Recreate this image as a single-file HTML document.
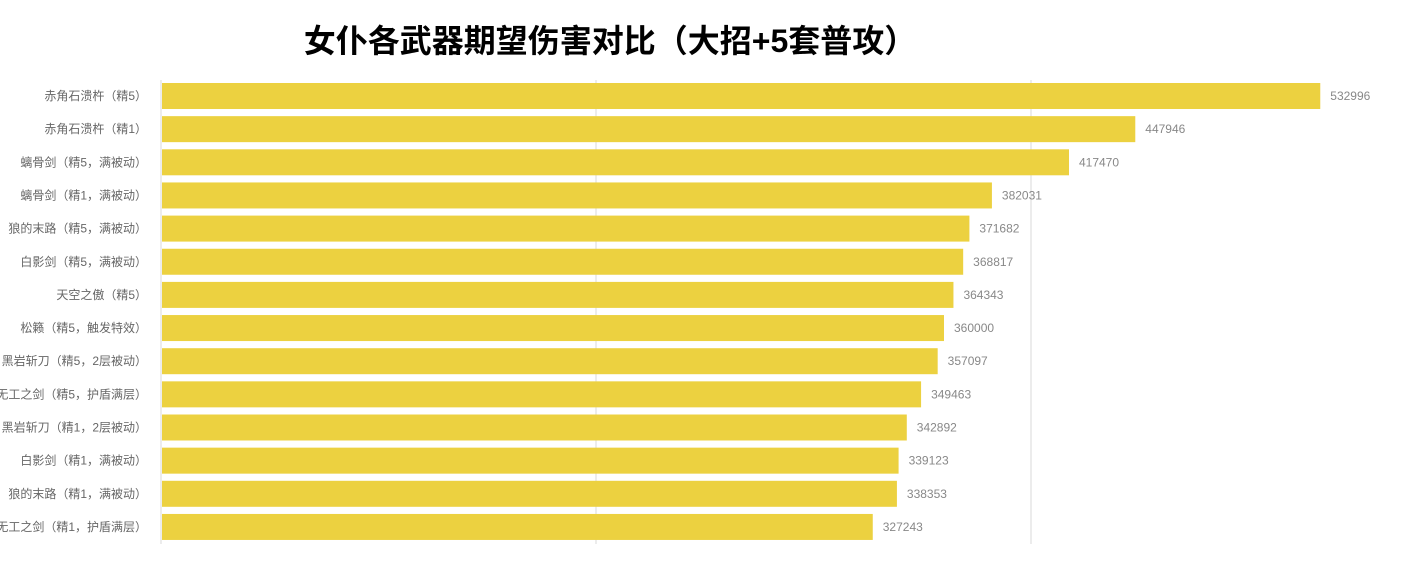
<!DOCTYPE html>
<html><head><meta charset="utf-8"><style>
body{margin:0;background:#fff;width:1407px;height:566px;overflow:hidden}
svg{display:block}
text{font-family:"Liberation Sans","Noto Sans CJK SC",sans-serif}
</style></head><body>
<svg id="chart" width="1407" height="566">
<text x="610" y="52" text-anchor="middle" font-size="32" font-weight="bold" fill="#000">女仆各武器期望伤害对比（大招+5套普攻）</text>
<g id="grid"></g><g id="bars"></g>
</svg>
<script>
const categories=["赤角石溃杵（精5）","赤角石溃杵（精1）","螭骨剑（精5，满被动）","螭骨剑（精1，满被动）","狼的末路（精5，满被动）","白影剑（精5，满被动）","天空之傲（精5）","松籁（精5，触发特效）","黑岩斩刀（精5，2层被动）","无工之剑（精5，护盾满层）","黑岩斩刀（精1，2层被动）","白影剑（精1，满被动）","狼的末路（精1，满被动）","无工之剑（精1，护盾满层）"];
const values=[532996,447946,417470,382031,371682,368817,364343,360000,357097,349463,342892,339123,338353,327243];
const gridTicks=[0,200000,400000];
const NS="http://www.w3.org/2000/svg";
const x0=161,pxPer=435/200000,top0=83,step=33.15,bh=26;
const xs=v=>x0+v*pxPer, ys=i=>top0+i*step;
const grid=document.getElementById('grid'),bars=document.getElementById('bars');
gridTicks.forEach((t,k)=>{const l=document.createElementNS(NS,'line');


l.setAttribute('x1',xs(t));l.setAttribute('x2',xs(t));l.setAttribute('y1',80);l.setAttribute('y2',544);
l.setAttribute('stroke','#e6e6e6');l.setAttribute('stroke-width','1.5');grid.appendChild(l);});
categories.forEach((c,i)=>{
const r=document.createElementNS(NS,'rect');


r.setAttribute('x',x0+1);r.setAttribute('y',ys(i));r.setAttribute('width',xs(values[i])-x0-1);r.setAttribute('height',bh);r.setAttribute('fill','#ECD140');bars.appendChild(r);
const lb=document.createElementNS(NS,'text');


lb.setAttribute('x',147);lb.setAttribute('y',ys(i)+bh/2+4);lb.setAttribute('text-anchor','end');lb.setAttribute('font-size','12');lb.setAttribute('fill','#666');lb.textContent=c;bars.appendChild(lb);
const vl=document.createElementNS(NS,'text');


vl.setAttribute('x',xs(values[i])+10);vl.setAttribute('y',ys(i)+bh/2+4);vl.setAttribute('font-size','12');vl.setAttribute('fill','#888');vl.textContent=values[i];bars.appendChild(vl);
});
</script>
</body></html>
